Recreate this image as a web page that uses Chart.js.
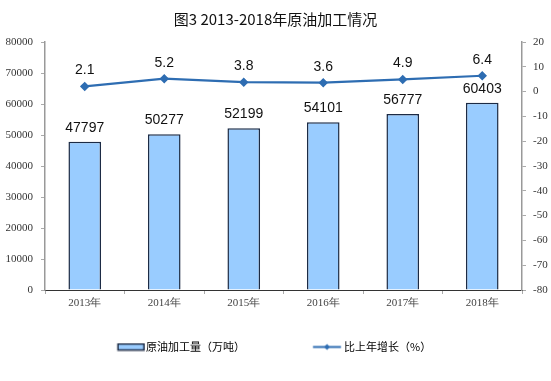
<!DOCTYPE html>
<html><head><meta charset="utf-8">
<script src="https://cdn.jsdelivr.net/npm/chart.js@4/dist/chart.umd.min.js"></script>
<style>html,body{margin:0;padding:0;background:#fff;}#wrap{width:551px;height:381px;}</style>
</head><body><div id="wrap"><canvas id="c" width="551" height="381"></canvas></div>
<script>
const categories = ['2013年','2014年','2015年','2016年','2017年','2018年'];
const outputValues = [47797, 50277, 52199, 54101, 56777, 60403];
const growthValues = [2.1, 5.2, 3.8, 3.6, 4.9, 6.4];
const leftTicks = [0,10000,20000,30000,40000,50000,60000,70000,80000];
const rightTicks = [-80,-70,-60,-50,-40,-30,-20,-10,0,10,20];
const seriesNames = ['原油加工量（万吨）','比上年增长（%）'];
const titleText = '图3 2013-2018年原油加工情况';

const barFill = '#99ccff', barBorder = '#1c2b45', lineColor = '#2e6db2';
const LEG_BOX = 83.5, LEG_FONT = 11, LEG_PAD = 10, LEG_START = 57;

function swatch(kind){
  const W = Math.ceil(LEG_BOX) + 10, c = document.createElement('canvas'); c.width = W; c.height = 9;
  const g = c.getContext('2d');
  const textRel = LEG_BOX/2 + LEG_FONT/2;
  const cx = W/2;
  if(kind==='bar'){ const x1 = cx + textRel - 28; g.fillStyle = barFill; g.fillRect(x1,1.5,26,6); g.strokeStyle = barBorder; g.lineWidth=1.5; g.strokeRect(x1,1.5,26,6); }
  else { const x1 = cx + textRel - 31; g.strokeStyle=lineColor; g.lineWidth=2; g.beginPath(); g.moveTo(x1,4.5); g.lineTo(x1+28,4.5); g.stroke();
    g.fillStyle=lineColor; g.beginPath(); const m = x1+14; g.moveTo(m,1.5); g.lineTo(m+3,4.5); g.lineTo(m,7.5); g.lineTo(m-3,4.5); g.closePath(); g.fill(); }
  return c;
}

const labelPlugin = {
  id:'vals',
  afterLayout(chart){
    const lg = chart.legend;
    if(lg && lg.lineWidths){ lg.lineWidths[0] = lg.left + LEG_PAD + lg.right - 2*LEG_START; }
  },
  afterDatasetsDraw(chart){
    const ctx = chart.ctx; ctx.save();
    ctx.font = '14px "Liberation Sans", Arial, sans-serif'; ctx.fillStyle='#111'; ctx.textAlign='center'; ctx.textBaseline='middle';
    chart.getDatasetMeta(0).data.forEach((el,i)=>{ ctx.fillText(String(outputValues[i]), el.x, el.y-14); });
    chart.getDatasetMeta(1).data.forEach((el,i)=>{ ctx.fillText(growthValues[i].toFixed(1), el.x, el.y-16); });
    ctx.restore();
  }
};

const tickFont = { family:'"Liberation Serif", "Times New Roman", serif', size:11 };

new Chart(document.getElementById('c'), {
  data:{ labels: categories, datasets:[
    { type:'bar', label: seriesNames[0], data: outputValues, yAxisID:'y', backgroundColor: barFill, borderColor: barBorder, borderWidth:1.5, categoryPercentage:1, barPercentage:0.41, order:2 },
    { type:'line', label: seriesNames[1], data: growthValues, yAxisID:'y1', borderColor: lineColor, backgroundColor: lineColor, borderWidth:2.2, pointStyle:'rectRot', pointRadius:3.2, tension:0, order:1 }
  ]},
  options:{
    responsive:false, animation:false, devicePixelRatio:1,
    layout:{ padding:{ top:0, bottom:18.5, left:0, right:0 } },
    plugins:{
      title:{ display:true, text:titleText, color:'#111', font:{ family:'"Noto Sans CJK SC", sans-serif', size:15, weight:'normal' }, padding:{ top:10, bottom:14 } },
      legend:{ position:'bottom', labels:{ usePointStyle:true, pointStyleWidth:LEG_BOX, padding:LEG_PAD, color:'#333', font:{ family:'"Noto Sans CJK SC", sans-serif', size:LEG_FONT },
        generateLabels(){ return [
          { text: seriesNames[0], pointStyle: swatch('bar'), fillStyle: barFill, strokeStyle: barBorder, lineWidth:0, datasetIndex:0 },
          { text: seriesNames[1], pointStyle: swatch('line'), fillStyle: lineColor, strokeStyle: lineColor, lineWidth:0, datasetIndex:1 } ]; } } },
      tooltip:{ enabled:false }
    },
    scales:{
      x:{ afterFit(a){ a.height = 41.5; },
          grid:{ display:true, drawOnChartArea:false, offset:true, tickLength:4, color:'#aaa' }, border:{ color:'#333', width:1 },
          ticks:{ color:'#444', font:tickFont, padding:3 } },
      y:{ position:'left', min:0, max:80000, afterBuildTicks(a){ a.ticks = leftTicks.map(v=>({value:v})); },
          afterFit(a){ a.width = 45; },
          grid:{ drawOnChartArea:false, tickLength:4, color:'#aaa' }, border:{ color:'#999', width:1.5 },
          ticks:{ color:'#333', font:tickFont, padding:8, callback:(v)=>String(v) } },
      y1:{ position:'right', min:-80, max:20, afterBuildTicks(a){ a.ticks = rightTicks.map(v=>({value:v})); },
          afterFit(a){ a.width = 29; },
          grid:{ drawOnChartArea:false, tickLength:4, color:'#aaa' }, border:{ color:'#999', width:1.5 },
          ticks:{ color:'#333', font:tickFont, padding:7, callback:(v)=>String(v) } }
    }
  },
  plugins:[labelPlugin]
});
</script></body></html>
